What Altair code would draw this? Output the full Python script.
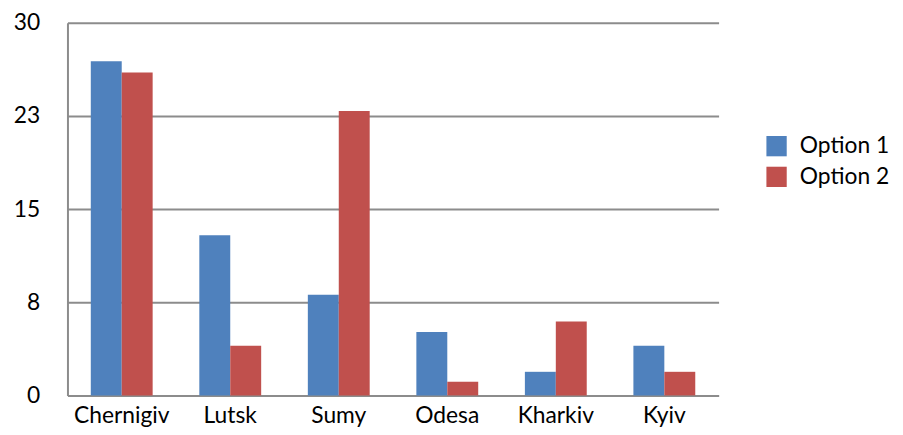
import altair as alt
import pandas as pd

cities = ["Chernigiv", "Lutsk", "Sumy", "Odesa", "Kharkiv", "Kyiv"]
option1 = [26.9, 12.9, 8.1, 5.1, 1.9, 4.0]
option2 = [26.0, 4.0, 22.9, 1.1, 5.95, 1.9]
series = ["Option 1", "Option 2"]
colors = ["#4f81bd", "#c0504d"]
y_ticks = [0, 7.5, 15, 22.5, 30]

rows = []
for c, a, b in zip(cities, option1, option2):
    rows.append({"city": c, "series": series[0], "value": a})
    rows.append({"city": c, "series": series[1], "value": b})
df = pd.DataFrame(rows)

FONT = "Lato"
FS = 23
GRID = "#8c8c8c"

chart = alt.Chart(df).mark_bar().encode(
    x=alt.X("city:N", sort=cities, title=None,
            scale=alt.Scale(paddingInner=0.43, paddingOuter=0.215),
            axis=alt.Axis(labelAngle=0, ticks=False, domain=True, domainColor=GRID,
                          domainWidth=2, labelFont=FONT, labelFontSize=FS,
                          labelColor="#000000", labelPadding=9)),
    xOffset=alt.XOffset("series:N", sort=series),
    y=alt.Y("value:Q", title=None,
            scale=alt.Scale(domain=[0, 30], nice=False),
            axis=alt.Axis(values=y_ticks, labelExpr="format(round(datum.value), 'd')",
                          ticks=False, domain=True, domainColor=GRID, domainWidth=2,
                          gridColor=GRID, gridWidth=2, gridOpacity=1,
                          labelFont=FONT, labelFontSize=FS, labelColor="#000000",
                          labelPadding=28, minExtent=54, maxExtent=54)),
    color=alt.Color("series:N", sort=series,
                    scale=alt.Scale(domain=series, range=colors),
                    legend=alt.Legend(title=None, orient="none", legendX=704, legendY=113,
                                      symbolType="square", symbolSize=420,
                                      symbolStrokeWidth=0, labelFont=FONT,
                                      labelFontSize=FS, labelColor="#000000",
                                      rowPadding=7, labelOffset=12)),
).properties(
    width=657, height=376,
    padding={"left": 5, "top": 2, "right": 5, "bottom": 0},
).configure_view(stroke=None).configure_axis(labelFont=FONT)

chart.save("out.html", embed_options={"renderer": "svg", "actions": False})
